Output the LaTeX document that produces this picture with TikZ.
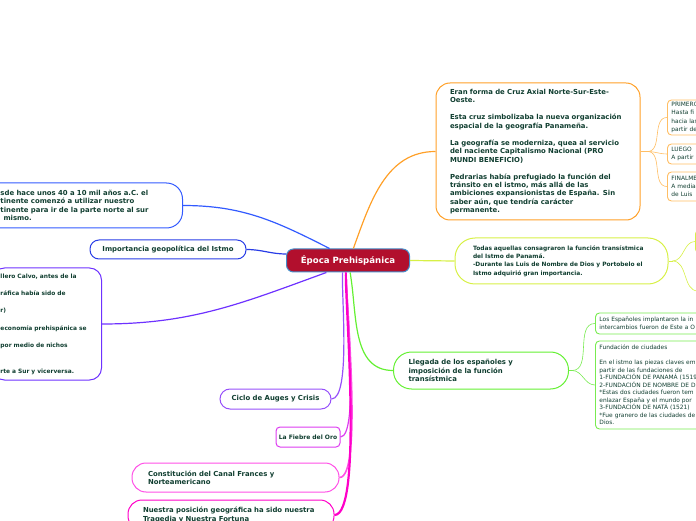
\documentclass[tikz,border=0pt]{standalone}
\usepackage{fontspec}
\setmainfont{DejaVu Sans}
\definecolor{ink}{RGB}{16,62,48}
\definecolor{coreRed}{RGB}{178,15,45}
\definecolor{coreRim}{RGB}{70,140,200}
\definecolor{bluA}{RGB}{50,90,255}
\definecolor{bluB}{RGB}{40,60,230}
\definecolor{vioA}{RGB}{110,50,255}
\definecolor{vioB}{RGB}{150,80,250}
\definecolor{magA}{RGB}{220,60,240}
\definecolor{magB}{RGB}{255,80,230}
\definecolor{magC}{RGB}{255,0,200}
\definecolor{orA}{RGB}{255,160,40}
\definecolor{orB}{RGB}{255,190,100}
\definecolor{limeA}{RGB}{215,240,70}
\definecolor{grnA}{RGB}{100,240,50}
\definecolor{grnB}{RGB}{120,235,80}

\begin{document}
\begin{tikzpicture}[x=1pt, y=1pt,
  core/.style={fill=coreRed, draw=coreRim, line width=1pt, rounded corners=7pt, minimum width=123pt,
    minimum height=23pt, inner sep=0pt, text=white, font=\fontsize{8.6}{10}\selectfont\bfseries},
  topic/.style={draw, line width=1pt, align=left, text=ink, inner xsep=0pt, inner ysep=0pt,
    font=\fontsize{6.9}{8.3}\selectfont\bfseries},
  leaf/.style={draw, line width=0.9pt, rounded corners=4pt, align=left, text=ink, inner ysep=0pt,
    inner xsep=4pt, font=\fontsize{5.9}{8.2}\selectfont},
  branch/.style={line width=1.2pt},
  twig/.style={line width=0.6pt}]
  \useasboundingbox (0,0) rectangle (696,520);
  \clip (0,0) rectangle (696,520);

  % centre
  \node[core] (core) at (348,259.5) {Época Prehispánica};

  % left side
  \node[topic, draw=bluA, anchor=west, text width=162pt, inner xsep=20pt, minimum height=45pt,
    rounded corners=16pt] (deep) at (-20,314.5)
    {sde hace unos 40 a 10 mil años a.C. el\\tinente comenzó a utilizar nuestro\\tinente para ir de la parte norte al sur\\\hspace*{3pt}mismo.};
  \node[topic, draw=bluB, align=center, minimum width=156pt, minimum height=19pt,
    rounded corners=9pt] (geo) at (168,270.5) {Importancia geopolítica del Istmo};
  \node[topic, draw=vioA, anchor=west, text width=93pt, inner xsep=8pt, minimum height=112pt,
    rounded corners=12pt, font=\fontsize{5.9}{17.3}\selectfont\bfseries] (calvo) at (-8,196)
    {llero Calvo, antes de la\\ráfica había sido de\\r)\\economía prehispánica se\\por medio de nichos\\[8.5pt]rte a Sur y vicerversa.};

  % lower branches
  \node[topic, draw=vioB, align=center, minimum width=111pt, minimum height=20pt,
    rounded corners=10pt] (ciclo) at (275.5,121) {Ciclo de Auges y Crisis};
  \node[topic, draw=magA, align=center, minimum width=64pt, minimum height=20pt,
    rounded corners=4pt, font=\fontsize{6}{7}\selectfont\bfseries] (oro) at (308,83) {La Fiebre del Oro};
  \node[topic, draw=magB, text width=175pt, inner xsep=16pt, minimum height=29pt,
    rounded corners=14pt] (canal) at (235.5,42.5) {Constitución del Canal Frances y\\Norteamericano};
  \node[topic, draw=magC, text width=176pt, inner xsep=15pt, minimum height=30pt,
    rounded corners=14pt] (suerte) at (231,5) {Nuestra posición geográfica ha sido nuestra\\Tragedia y Nuestra Fortuna};

  % right side
  \node[topic, draw=orA, text width=176pt, inner xsep=14pt, minimum height=137pt,
    rounded corners=14pt] (cruz) at (538,368.5)
    {Eran forma de Cruz Axial Norte-Sur-Este-\\Oeste.\\[9pt]Esta cruz simbolizaba la nueva organización\\espacial de la geografía Panameña.\\[9pt]La geografía se moderniza, quea al servicio\\del naciente Capitalismo Nacional (PRO\\MUNDI BENEFICIO)\\[9pt]Pedrarias había prefugiado la función del\\tránsito en el istmo, más allá de las\\ambiciones expansionistas de España. Sin\\saber aún, que tendría carácter\\permanente.};
  \node[leaf, draw=orB, anchor=west, text width=60pt, minimum height=35pt] (cruzA) at (667,402.5)
    {PRIMERO\\Hasta fi\\hacia las\\partir de};
  \node[leaf, draw=orB, anchor=west, text width=60pt, minimum height=20pt] (cruzB) at (667,366)
    {LUEGO\\A partir};
  \node[leaf, draw=orB, anchor=west, text width=60pt, minimum height=29pt] (cruzC) at (667,333.5)
    {FINALMENTE\\A media\\de Luis};

  \node[topic, draw=limeA, text width=177pt, inner xsep=18pt, minimum height=46pt,
    rounded corners=20pt, font=\fontsize{5.9}{8.2}\selectfont\bfseries] (transito) at (561.5,259)
    {Todas aquellas consagraron la función transístmica\\del Istmo de Panamá.\\-Durante las Luis de Nombre de Dios y Portobelo el\\Istmo adquirió gran importancia.};
  \node[leaf, draw=limeA, line width=1pt, anchor=west, minimum width=40pt, minimum height=23pt] (limeleaf) at (695,278.5) {};
  \coordinate (limeend) at (698,229);

  \node[topic, draw=grnA, text width=145pt, inner xsep=15pt, minimum height=37pt,
    rounded corners=18pt] (llegada) at (481,149.5)
    {Llegada de los españoles y\\imposición de la función\\transístmica};
  \node[leaf, draw=grnB, anchor=west, text width=130pt, minimum height=21pt,
    font=\fontsize{5.9}{7.7}\selectfont] (impl) at (595,196.5)
    {Los Españoles implantaron la in\\intercambios fueron de Este a O};
  \node[leaf, draw=grnB, anchor=west, text width=130pt, minimum height=88pt,
    font=\fontsize{5.9}{7.5}\selectfont] (fund) at (595,135)
    {Fundación de ciudades\\[7.5pt]En el istmo las piezas claves em\\partir de las fundaciones de\\1-FUNDACIÓN DE PANAMÁ (1519)\\2-FUNDACIÓN DE NOMBRE DE D\\{}*Estas dos ciudades fueron tem\\enlazar España y el mundo por\\3-FUNDACIÓN DE NATÁ (1521)\\{}*Fue granero de las ciudades de\\Dios.};

  % branches from the centre
  \draw[branch, bluA] (core.147) to[out=153, in=0] (deep.east);
  \draw[branch, bluB] (core.174) to[out=180, in=0] (geo.east);
  \draw[branch, vioA] (core.209) to[out=200, in=0] (calvo.east);
  \draw[branch, vioB] (core.246) to[out=265, in=0, looseness=0.4] (ciclo.east);
  \draw[branch, magA] (core.262) to[out=268, in=0, looseness=0.3] (oro.east);
  \draw[branch, magB, line width=1.6pt] (core.261) to[out=268, in=0, looseness=0.3] (canal.east);
  \draw[branch, magC, line width=2.2pt] (core.260) to[out=268, in=0, looseness=0.3] (suerte.east);
  \draw[branch, orA] (core.66) to[out=70, in=180] (cruz.west);
  \draw[branch, limeA] (core.east) -- (transito.west);
  \draw[branch, grnA] (core.280) to[out=280, in=180] (llegada.west);

  % twigs
  \draw[twig, orB] (cruz.east) -- ++(7,0) coordinate (crfork);
  \foreach \leafname in {cruzA,cruzB,cruzC}
    \draw[twig, orB] (crfork) to[out=0, in=180] (\leafname.west);
  \draw[twig, limeA] (transito.east) -- ++(4,0) coordinate (trfork);
  \draw[twig, limeA] (trfork) to[out=0, in=180] (limeleaf.west);
  \draw[twig, limeA] (trfork) to[out=0, in=180] (limeend);
  \draw[twig, grnB] (llegada.east) -- ++(3,0) coordinate (llfork);
  \foreach \leafname in {impl,fund}
    \draw[twig, grnB] (llfork) to[out=0, in=180] (\leafname.west);
\end{tikzpicture}
\end{document}
